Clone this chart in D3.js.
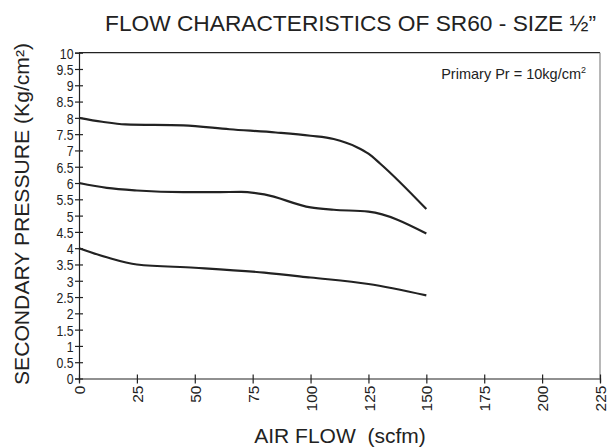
<!DOCTYPE html>
<html>
<head>
<meta charset="utf-8">
<script src="https://cdn.jsdelivr.net/npm/d3@7"></script>
<style>
  body { margin: 0; background: #fff; }
  text { font-family: "Liberation Sans", Arial, sans-serif; fill: #222; }
</style>
</head>
<body>
<svg id="chart" width="608" height="447"></svg>
<script>
// Curvas de presión secundaria (scfm, kg/cm2)
const flow8 = [0, 10, 20, 45, 65, 85, 100, 110, 120, 125, 130, 150]
const press8 = [8, 7.88, 7.8, 7.77, 7.65, 7.55, 7.45, 7.35, 7.1, 6.9, 6.6, 5.2]
const flow6 = [0, 12, 25, 45, 60, 70, 80, 100, 110, 125, 150]
const press6 = [6, 5.85, 5.77, 5.72, 5.72, 5.73, 5.65, 5.25, 5.18, 5.12, 4.45]
const flow4 = [0, 12, 25, 50, 80, 100, 125, 150]
const press4 = [4, 3.72, 3.5, 3.4, 3.25, 3.1, 2.9, 2.55]

const xTicks = [0, 25, 50, 75, 100, 125, 150, 175, 200, 225]
const yTicks = d3.range(0, 10.01, 0.5)

const svg = d3.select('#chart')
const mLeft = 79, mRight = 600, mTop = 52.7, mBottom = 378.5

const x = d3.scaleLinear().domain([0, 225]).range([mLeft, mRight])
const y = d3.scaleLinear().domain([0, 10]).range([mBottom, mTop])

// Marco: borde superior y derecho
svg.append('line').attr('x1', mLeft).attr('x2', mRight).attr('y1', mTop).attr('y2', mTop)
  .attr('stroke', '#222').attr('stroke-width', 1.2)
svg.append('line').attr('x1', mRight).attr('x2', mRight).attr('y1', mTop).attr('y2', mBottom)
  .attr('stroke', '#888').attr('stroke-width', 1.2)

// Eje Y (etiquetas algo estrechas, como en el original)
const yAxis = svg.append('g').attr('transform', `translate(${mLeft},0)`)
  .call(d3.axisLeft(y).tickValues(yTicks).tickSize(4)
    .tickFormat(d => d3.format('~g')(d)))
yAxis.select('.domain').attr('stroke', '#222').attr('stroke-width', 1.2)
yAxis.selectAll('.tick line').attr('x2', 4).attr('x1', -4).attr('stroke', '#222').attr('stroke-width', 1.2)
yAxis.selectAll('.tick text').attr('font-size', 15).attr('x', -5.5 / 0.82).attr('dy', '0.36em')
  .attr('transform', 'scale(0.82,1)')
yAxis.attr('font-family', null)

// Eje X
const xAxis = svg.append('g').attr('transform', `translate(0,${mBottom})`)
  .call(d3.axisBottom(x).tickValues(xTicks).tickSize(4))
xAxis.select('.domain').attr('stroke', '#222').attr('stroke-width', 1.2)
xAxis.selectAll('.tick line').attr('y1', -4).attr('y2', 5).attr('stroke', '#222').attr('stroke-width', 1.2)
xAxis.selectAll('.tick text')
  .attr('font-size', 15.5)
  .attr('transform', 'rotate(-90)')
  .attr('text-anchor', 'end')
  .attr('x', -7).attr('y', 0).attr('dy', '0.36em')
xAxis.attr('font-family', null)

// Líneas
const line = d3.line().x(d => x(d[0])).y(d => y(d[1])).curve(d3.curveMonotoneX)
const series = [
  d3.zip(flow8, press8),
  d3.zip(flow6, press6),
  d3.zip(flow4, press4)
]
svg.selectAll('path.curve').data(series).enter().append('path')
  .attr('class', 'curve')
  .attr('d', line)
  .attr('fill', 'none')
  .attr('stroke', '#222')
  .attr('stroke-width', 2.2)

// Textos
svg.append('text').attr('x', 105).attr('y', 31).attr('text-anchor', 'start')
  .attr('font-size', 21.5).attr('textLength', 491).attr('lengthAdjust', 'spacingAndGlyphs')
  .text('FLOW CHARACTERISTICS OF SR60 - SIZE ½”')

svg.append('text').attr('transform', `translate(29,214) rotate(-90)`)
  .attr('text-anchor', 'middle').attr('font-size', 19.5)
  .attr('textLength', 342).attr('lengthAdjust', 'spacingAndGlyphs')
  .text('SECONDARY PRESSURE (Kg/cm²)')

svg.append('text').attr('x', 340).attr('y', 443).attr('text-anchor', 'middle')
  .attr('font-size', 21).attr('xml:space', 'preserve').text('AIR FLOW  (scfm)')

const note = svg.append('text').attr('x', 586).attr('y', 79).attr('text-anchor', 'end')
  .attr('font-size', 14.5)
note.append('tspan').text('Primary Pr = 10kg/cm')
note.append('tspan').attr('font-size', 9).attr('dy', -6).text('2')
</script>
</body>
</html>
